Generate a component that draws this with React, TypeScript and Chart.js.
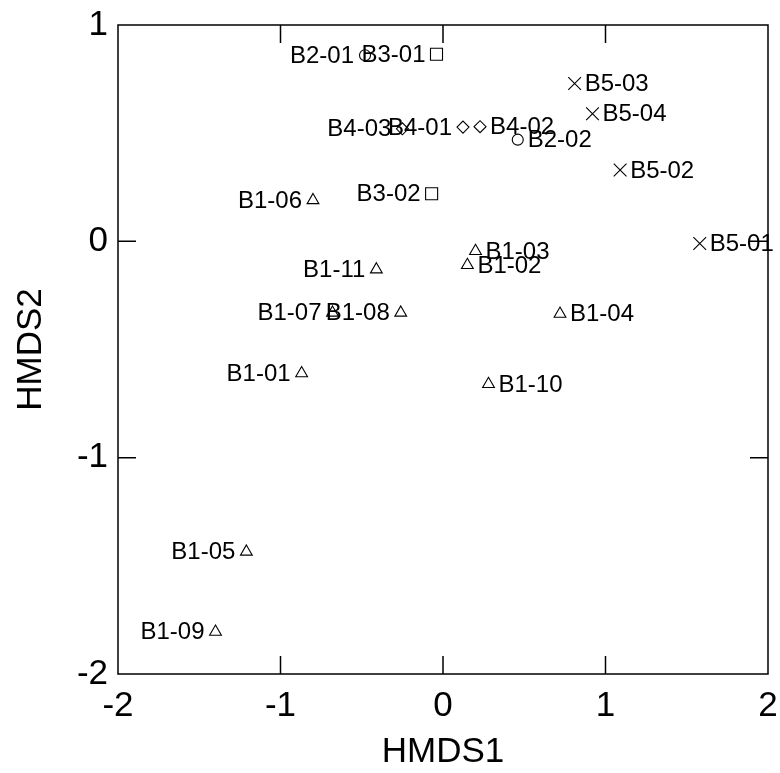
import React, { useEffect, useRef } from "react";
import { Chart, registerables } from "chart.js";

Chart.register(...registerables);

const sampleLabels = [
  "B1-01", "B1-02", "B1-03", "B1-04", "B1-05", "B1-06", "B1-07", "B1-08", "B1-09", "B1-10", "B1-11",
  "B2-01", "B2-02",
  "B3-01", "B3-02",
  "B4-01", "B4-02", "B4-03",
  "B5-01", "B5-02", "B5-03", "B5-04",
];
const hmds1 = [
  -0.87, 0.15, 0.2, 0.72, -1.21, -0.8, -0.68, -0.26, -1.4, 0.28, -0.41,
  -0.48, 0.46,
  -0.04, -0.07,
  0.123, 0.228, -0.25,
  1.58, 1.09, 0.81, 0.92,
];
const hmds2 = [
  -0.61, -0.11, -0.045, -0.335, -1.435, 0.19, -0.33, -0.33, -1.805, -0.66, -0.13,
  0.86, 0.47,
  0.865, 0.22,
  0.528, 0.53, 0.52,
  -0.01, 0.33, 0.73, 0.59,
];
const labelSide = [
  "L", "R", "R", "R", "L", "L", "L", "L", "L", "R", "L",
  "L", "R",
  "L", "L",
  "L", "R", "L",
  "R", "R", "R", "R",
];
const groups = ["B1", "B2", "B3", "B4", "B5"];
const xTicks = [-2, -1, 0, 1, 2];
const yTicks = [-2, -1, 0, 1];

const groupStyle: Record<string, { style: string; radius: number }> = {
  B1: { style: "triangle", radius: 6.8 },
  B2: { style: "circle", radius: 5.5 },
  B3: { style: "rect", radius: 8.5 },
  B4: { style: "rectRot", radius: 6 },
  B5: { style: "crossRot", radius: 9 },
};

const FONT = "'Liberation Sans', Arial, sans-serif";

const framePlugin = {
  id: "frame",
  afterDatasetsDraw(chart: any) {
    const { ctx, chartArea, scales } = chart;
    const { left, right, top, bottom } = chartArea;
    const tl = 18;
    ctx.save();
    ctx.strokeStyle = "#000";
    ctx.lineWidth = 1.5;
    ctx.beginPath();
    ctx.rect(left, top, right - left, bottom - top);
    for (const v of xTicks) {
      const px = scales.x.getPixelForValue(v);
      ctx.moveTo(px, bottom);
      ctx.lineTo(px, bottom - tl);
      ctx.moveTo(px, top);
      ctx.lineTo(px, top + tl);
    }
    for (const v of yTicks) {
      const py = scales.y.getPixelForValue(v);
      ctx.moveTo(left, py);
      ctx.lineTo(left + tl, py);
      ctx.moveTo(right, py);
      ctx.lineTo(right - tl, py);
    }
    ctx.stroke();
    ctx.restore();
  },
};

const labelPlugin = {
  id: "pointLabels",
  afterDatasetsDraw(chart: any) {
    const { ctx } = chart;
    ctx.save();
    ctx.fillStyle = "#000";
    ctx.font = `24px ${FONT}`;
    ctx.textBaseline = "middle";
    chart.data.datasets.forEach((ds: any, di: number) => {
      const meta = chart.getDatasetMeta(di);
      meta.data.forEach((el: any, i: number) => {
        const d = ds.data[i];
        if (d.side === "L") {
          ctx.textAlign = "right";
          ctx.fillText(d.name, el.x - 11, el.y + 1);
        } else {
          ctx.textAlign = "left";
          ctx.fillText(d.name, el.x + 10, el.y + 1);
        }
      });
    });
    ctx.restore();
  },
};

export default function App() {
  const canvasRef = useRef<HTMLCanvasElement | null>(null);

  useEffect(() => {
    document.body.style.margin = "0";
    const canvas = canvasRef.current;
    if (!canvas) return;

    const datasets = groups.map((g) => {
      const data: any[] = [];
      sampleLabels.forEach((name, i) => {
        if (name.startsWith(g)) {
          data.push({ x: hmds1[i], y: hmds2[i], name, side: labelSide[i] });
        }
      });
      return {
        label: g,
        data,
        pointStyle: groupStyle[g].style,
        pointRadius: groupStyle[g].radius,
        pointHoverRadius: groupStyle[g].radius,
        pointBorderColor: "#000",
        pointBackgroundColor: "rgba(255,255,255,0)",
        pointBorderWidth: 1.1,
        showLine: false,
      };
    });

    const chart = new Chart(canvas, {
      type: "scatter",
      data: { datasets },
      options: {
        animation: false,
        responsive: false,
        devicePixelRatio: 1,
        layout: { padding: { top: 25, right: 12, left: 0, bottom: 0 } },
        plugins: {
          legend: { display: false },
          tooltip: { enabled: false },
        },
        scales: {
          x: {
            type: "linear",
            min: -2,
            max: 2,
            afterFit(scale: any) {
              scale.height = 99;
              scale.paddingLeft = 0;
              scale.paddingRight = 0;
            },
            afterBuildTicks(scale: any) {
              scale.ticks = xTicks.map((v) => ({ value: v }));
            },
            grid: { display: false, drawTicks: false },
            border: { display: false },
            ticks: {
              padding: 11,
              color: "#000",
              font: { family: FONT, size: 35 },
              maxRotation: 0,
            },
            title: {
              display: true,
              text: "HMDS1",
              color: "#000",
              font: { family: FONT, size: 35 },
              padding: { top: 0, bottom: 0 },
            },
          },
          y: {
            type: "linear",
            min: -2,
            max: 1,
            afterFit(scale: any) {
              scale.width = 118;
              scale.paddingTop = 0;
              scale.paddingBottom = 0;
            },
            afterBuildTicks(scale: any) {
              scale.ticks = yTicks.map((v) => ({ value: v }));
            },
            grid: { display: false, drawTicks: false },
            border: { display: false },
            ticks: {
              padding: 10,
              color: "#000",
              font: { family: FONT, size: 35 },
            },
            title: {
              display: true,
              text: "HMDS2",
              color: "#000",
              font: { family: FONT, size: 35 },
              padding: { top: 10, bottom: 0 },
            },
          },
        },
      },
      plugins: [framePlugin, labelPlugin],
    } as any);

    return () => chart.destroy();
  }, []);

  return (
    <div style={{ width: 780, height: 773, background: "#fff" }}>
      <canvas ref={canvasRef} width={780} height={773} style={{ display: "block" }} />
    </div>
  );
}
